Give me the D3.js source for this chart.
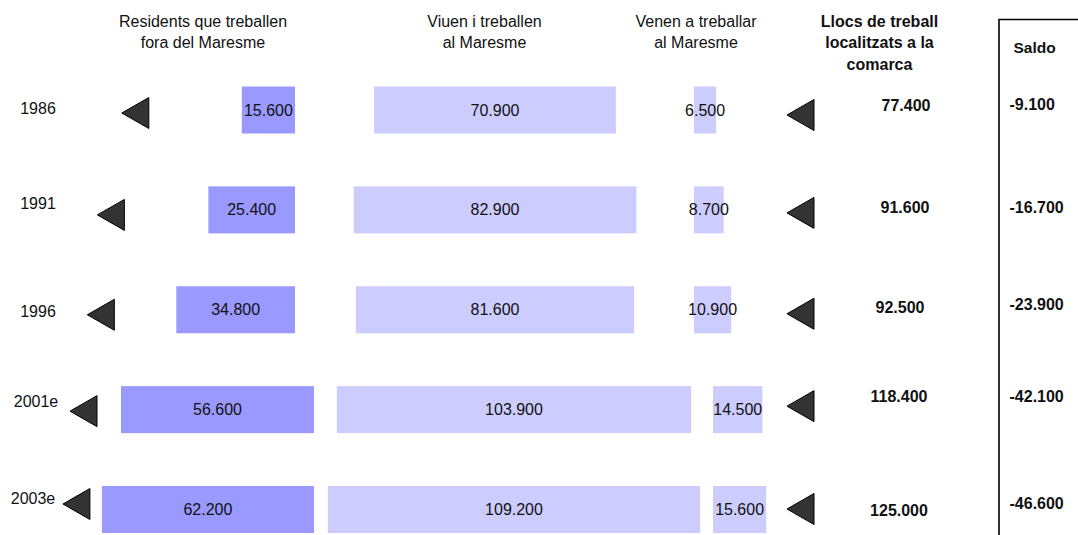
<!DOCTYPE html>
<html><head><meta charset="utf-8">
<script src="https://cdn.jsdelivr.net/npm/d3@7"></script>
<style>html,body{margin:0;padding:0;background:#fff;overflow:hidden}
text{font-family:"Liberation Sans",Arial,Helvetica,sans-serif;fill:#111}</style>
</head><body><svg id="c" width="1078" height="535"></svg>
<script>
// ---- data (thousands of workers) ----
const years = ["1986", "1991", "1996", "2001e", "2003e"];
const residentsOut = [15.6, 25.4, 34.8, 56.6, 62.2];   // Residents que treballen fora del Maresme
const liveWork = [70.9, 82.9, 81.6, 103.9, 109.2];     // Viuen i treballen al Maresme
const commuteIn = [6.5, 8.7, 10.9, 14.5, 15.6];        // Venen a treballar al Maresme
const jobs = [77.4, 91.6, 92.5, 118.4, 125.0];         // Llocs de treball localitzats a la comarca
const saldo = [-9.1, -16.7, -23.9, -42.1, -46.6];      // Saldo
const headerResidents = ["Residents que treballen", "fora del Maresme"];
const headerLive = ["Viuen i treballen", "al Maresme"];
const headerIn = ["Venen a treballar", "al Maresme"];
const headerJobs = ["Llocs de treball", "localitzats a la", "comarca"];
const headerSaldo = "Saldo";

// ---- layout ----
const W = 1078, H = 535;
const svg = d3.select("#c");
svg.append("rect").attr("width", W).attr("height", H).attr("fill", "#fff");

const loc = d3.formatLocale({decimal: ",", thousands: ".", grouping: [3], currency: ["", "€"], minus: "-"});
const fmt = v => loc.format(",d")(Math.round(v * 1000));

const x = d3.scaleLinear().domain([0, 100]).range([0, 341]);
const y = d3.scalePoint().domain(years).range([110, 509.5]);
const barH = 47;
const estShift = yr => yr.endsWith("e") ? 19 : 0;
const purpleRight = 295, lightCenter = 495, thirdLeft = 694;
// hand-placed layout nudges of the original diagram (per row)
const arrowGap = [93, 84, 62, 24, 12];       // gap between left arrow and purple bar
const yearDy = [3.5, -1, 7, -3, -5.5];
const yearDx = [0, 0, 0, -2, -5];
const jobsDy = [0.5, 3.5, 3.5, -8, 6.5];
const jobsDx = [4, 3, -2, -3, -3];
const saldoDy = [0, 3.5, 0, -8, -0.5];
const leftArrowDy = [3, 5, 5, 1.5, -5.5];
const rightArrowDy = [5, 3, 4, -3.5, -0.5];

const rows = years.map((yr, i) => ({
  yr, i, out: residentsOut[i], live: liveWork[i], inn: commuteIn[i],
  jobs: jobs[i], saldo: saldo[i], cy: y(yr), sh: estShift(yr)
}));

function headerBlock(lines, cx, baselines, bold) {
  const t = svg.append("text").attr("text-anchor", "middle")
    .attr("font-size", 16).attr("font-weight", bold ? "bold" : "normal");
  lines.forEach((l, k) => t.append("tspan").attr("x", cx).attr("y", baselines[k]).text(l));
}
headerBlock(headerResidents, 203, [27, 48], false);
headerBlock(headerLive, 484.5, [27, 48], false);
headerBlock(headerIn, 696, [27, 48], false);
headerBlock(headerJobs, 879.5, [26.5, 48, 69.5], true);
svg.append("text").attr("x", 1013.5).attr("y", 53).attr("font-size", 15.5)
  .attr("font-weight", "bold").text(headerSaldo);

// Saldo box
svg.append("path").attr("d", `M999,${H + 5}V19.5H${W + 5}`)
  .attr("fill", "none").attr("stroke", "#000").attr("stroke-width", 1.6);

// year labels
svg.selectAll("text.yr").data(rows).join("text").attr("class", "yr")
  .attr("x", d => 38 + yearDx[d.i]).attr("y", d => d.cy + yearDy[d.i]).attr("text-anchor", "middle")
  .attr("font-size", 16).text(d => d.yr);

// bars
const g = svg.append("g");
g.selectAll("rect.out").data(rows).join("rect").attr("class", "out")
  .attr("x", d => purpleRight + d.sh - x(d.out)).attr("width", d => x(d.out))
  .attr("y", d => d.cy - barH / 2).attr("height", barH).attr("fill", "#9999FF");
g.selectAll("rect.live").data(rows).join("rect").attr("class", "live")
  .attr("x", d => lightCenter + d.sh - x(d.live) / 2).attr("width", d => x(d.live))
  .attr("y", d => d.cy - barH / 2).attr("height", barH).attr("fill", "#CCCCFF");
g.selectAll("rect.inn").data(rows).join("rect").attr("class", "inn")
  .attr("x", d => thirdLeft + d.sh).attr("width", d => x(d.inn))
  .attr("y", d => d.cy - barH / 2).attr("height", barH).attr("fill", "#CCCCFF");

// bar labels
const lbl = (cls, xf, vf) => g.selectAll("text." + cls).data(rows).join("text").attr("class", cls)
  .attr("x", xf).attr("y", d => d.cy + 5.5).attr("text-anchor", "middle")
  .attr("font-size", 16).text(d => fmt(vf(d)));
lbl("lout", d => purpleRight + d.sh - x(d.out) / 2, d => d.out);
lbl("llive", d => lightCenter + d.sh, d => d.live);
lbl("linn", d => thirdLeft + d.sh + x(d.inn) / 2, d => d.inn);

// arrows (left-pointing triangles)
const tri = (xr, cy) => `M${xr},${cy - 15.5}L${xr - 27},${cy}L${xr},${cy + 15.5}Z`;
svg.selectAll("path.la").data(rows).join("path").attr("class", "la")
  .attr("d", d => tri(purpleRight + d.sh - x(d.out) - arrowGap[d.i], d.cy + leftArrowDy[d.i]))
  .attr("fill", "#333").attr("stroke", "#000").attr("stroke-width", 1);
svg.selectAll("path.ra").data(rows).join("path").attr("class", "ra")
  .attr("d", d => tri(814, d.cy + rightArrowDy[d.i]))
  .attr("fill", "#333").attr("stroke", "#000").attr("stroke-width", 1);

// jobs and saldo values
svg.selectAll("text.jobs").data(rows).join("text").attr("class", "jobs")
  .attr("x", d => 902 + jobsDx[d.i]).attr("y", d => d.cy + jobsDy[d.i]).attr("text-anchor", "middle")
  .attr("font-size", 16).attr("font-weight", "bold").text(d => fmt(d.jobs));
svg.selectAll("text.saldo").data(rows).join("text").attr("class", "saldo")
  .attr("x", 1009.5).attr("y", d => d.cy + saldoDy[d.i]).attr("font-size", 16)
  .attr("font-weight", "bold").text(d => fmt(d.saldo));
</script></body></html>
